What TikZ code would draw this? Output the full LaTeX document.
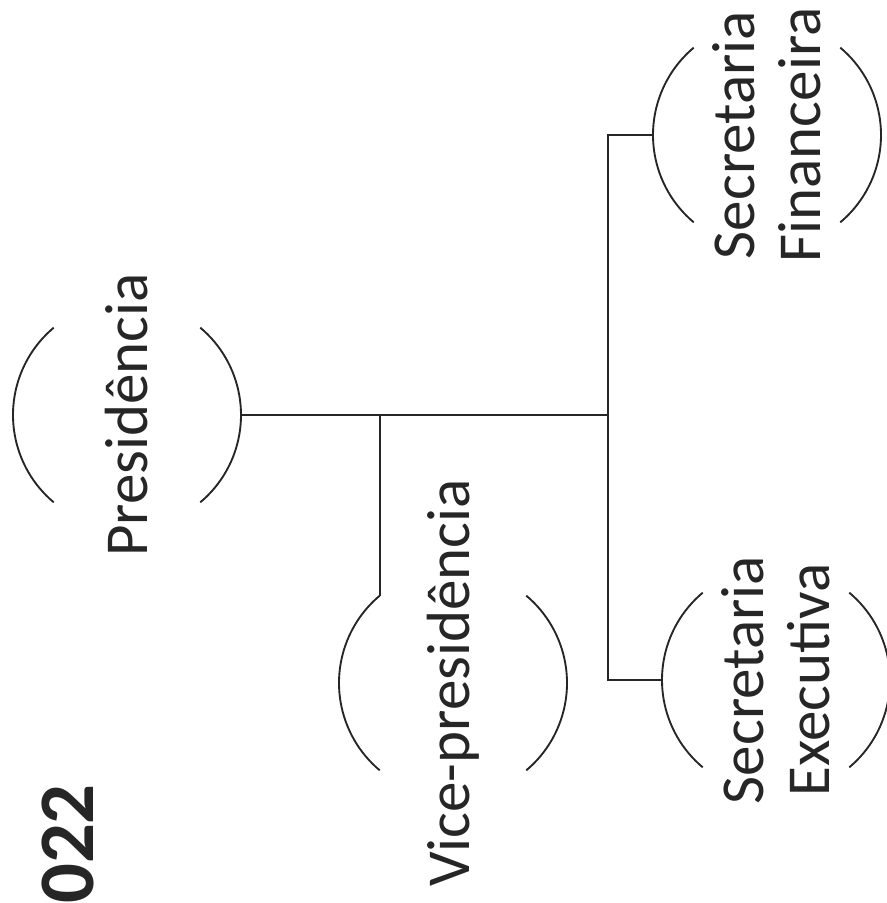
\documentclass[tikz,border=0pt]{standalone}
\usepackage{fontspec}
\setmainfont{Carlito}
\definecolor{ink}{HTML}{262626}
\begin{document}
\begin{tikzpicture}[x=0.75pt,y=0.75pt,
  unit/.style={circle,draw=none,inner sep=0pt,outer sep=0pt,minimum size=171pt},
  lbl/.style={rotate=90,inner sep=0pt,text=ink,font=\fontsize{45.75}{49.5}\selectfont,align=center},
  yearlbl/.style={rotate=90,inner sep=0pt,text=ink,font=\fontsize{59}{66}\selectfont\bfseries},
  bracket/.style={draw=ink,line width=1.4pt},
  conn/.style={draw=ink,line width=1.3pt}]
\useasboundingbox (0,0) rectangle (886,903);
\fill[white] (0,0) rectangle (886,903);

% units (circles whose left and right arcs are drawn)
\node[unit] (p) at (127,488) {};
\node[unit] (v) at (453,220) {};
\node[unit] (f) at (767,768) {};
\node[unit] (e) at (776,223) {};

\foreach \n in {p,v,f,e} {
  \draw[bracket] (\n.130) arc[start angle=130,end angle=230,radius=114];
  \draw[bracket] (\n.-50) arc[start angle=-50,end angle=50,radius=114];
}

% labels
\node[lbl] (pt) at (p) {Presidência};
\node[lbl] (vt) at (v) {Vice-presidência};
\node[lbl] (ft) at (f) {Secretaria\\Financeira};
\node[lbl] (et) at (e) {Secretaria\\Executiva};
\node[yearlbl,anchor=base east] (yr) at (93,119) {022};

% connectors
\coordinate (trunk) at (608,0);
\draw[conn] (p.east) -- (p.east -| trunk);
\draw[conn] (v.130) -- (v.130 |- p.east);
\draw[conn] (f.west) -- (f.west -| trunk) -- (e.west -| trunk) -- (e.west);
\end{tikzpicture}
\end{document}
